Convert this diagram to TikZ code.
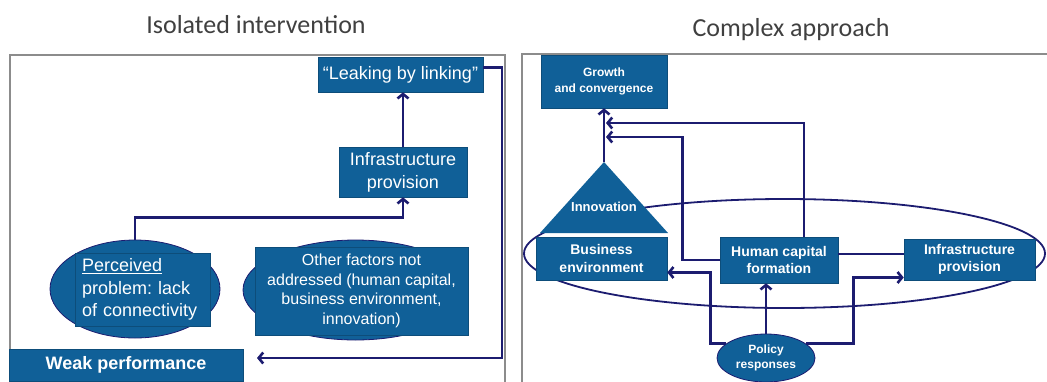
\documentclass[tikz,border=0pt]{standalone}
\usepackage{fontspec}
\setmainfont{Liberation Sans}
\newfontfamily\headfont{Carlito}
\frenchspacing
\usetikzlibrary{arrows,arrows.meta,shapes.geometric}

\definecolor{boxblue}{RGB}{16,96,152}
\definecolor{linknavy}{RGB}{28,28,112}
\definecolor{framegrey}{RGB}{140,140,140}

\tikzset{
  box/.style={fill=boxblue, draw=boxblue!80!black, line width=0.6pt, text=white, align=center, inner sep=0pt},
  blob/.style={ellipse, fill=boxblue, draw=linknavy, line width=0.8pt, inner sep=0pt},
  link/.style={draw=linknavy, line width=2.6pt, >={Straight Barb[length=4.5pt,width=11pt]}},
  panel/.style={draw=framegrey, line width=1.5pt},
  heading/.style={text=black!75, font=\headfont\fontsize{26}{30}\selectfont},
}

\begin{document}
\begin{tikzpicture}[x=1pt,y=-1pt]
	\useasboundingbox (0,0) rectangle (1047,381);
	\node[heading] (isotitle) at (256,25) {Isolated intervention};
	\node[heading] (cpxtitle) at (791,30) {Complex approach};
	\draw[panel] (10,392) |- (505,55) -- (505,392);
	\draw[panel] (522,392) |- (1060,54);

	% left: one-track intervention
	\node[box, minimum width=165pt, minimum height=35pt, font=\fontsize{18}{22}\selectfont] (leak) at (400.5,74.5) {“Leaking by linking”};
	\node[box, minimum width=128pt, minimum height=50pt, font=\fontsize{18}{23}\selectfont] (infra) at (403,172) {Infrastructure\\provision};
	\node[blob, minimum width=170pt, minimum height=98pt] (percv) at (135,289) {};
	\node[box, text width=121pt, inner xsep=7pt, minimum height=73pt, align=left, font=\fontsize{18}{22.5}\selectfont] (percvtxt) at (142.5,289.5) {\underline{Perceived}\\problem: lack\\of connectivity};
	\node[blob, minimum width=225pt, minimum height=100pt] (other) at (355.5,290) {};
	\node[box, minimum width=213pt, minimum height=88pt, font=\fontsize{16}{19.5}\selectfont] (othertxt) at (361.5,291) {Other factors not\\addressed (human capital,\\business environment,\\innovation)};
	\node[box, minimum width=234pt, minimum height=32pt, font=\bfseries\fontsize{18}{22}\selectfont] (weak) at (126,365) {Weak performance};
	\coordinate (rail) at (502,358);
	\coordinate (back) at (257,358);
	\draw[link,->] (percv.north) -- ++(0,-22) -| (infra.south);
	\draw[link,->] (infra.north) -- (infra.north |- leak.south);
	\draw[link,->] ([yshift=7pt]leak.east) -| (rail) -- (back);

	% right: joined-up approach
	\node[ellipse, draw=linknavy, line width=1.8pt, minimum width=521pt, minimum height=109pt] (cluster) at (784.5,253.5) {};
	\fill[boxblue] (604,162) -- (668,233) -- (540,233) -- cycle;
	\coordinate (apex) at (604,162);
	\node[text=white, font=\bfseries\fontsize{13}{16}\selectfont] (innov) at (604,207) {Innovation};
	\node[box, minimum width=126pt, minimum height=53pt, font=\bfseries\fontsize{12}{16}\selectfont] (grow) at (604,81.5) {Growth\\and convergence};
	\node[box, minimum width=131pt, minimum height=43pt, font=\bfseries\fontsize{14}{17.5}\selectfont] (biz) at (601.5,258.5) {Business\\environment};
	\node[box, minimum width=118pt, minimum height=46pt, font=\bfseries\fontsize{14}{17.5}\selectfont] (hc) at (779,260) {Human capital\\formation};
	\node[box, minimum width=131pt, minimum height=41pt, font=\bfseries\fontsize{14}{17.5}\selectfont] (infra2) at (969.5,259.5) {Infrastructure\\provision};
	\node[blob, minimum width=98pt, minimum height=48pt, text=white, align=center, font=\bfseries\fontsize{12}{15}\selectfont] (policy) at (766,358) {Policy\\responses};
	\coordinate (upperjoin) at (606,123);
	\coordinate (lowerjoin) at (606,137);
	\draw[link,->] (apex) -- (grow.south);
	\draw[link,->] ([xshift=25pt]hc.north) |- (upperjoin);
	\draw[link,->] (hc.west) -- ++(-37,0) |- (lowerjoin);
	\draw[link] ([yshift=6pt]hc.east) -- ([yshift=6pt]hc.east -| infra2.west);
	\draw[link,->] (policy.north) -- (policy.north |- hc.south);
	\draw[link,->] (policy.160) -- ++(-16,0) |- ([yshift=-14pt]biz.east);
	\draw[link,->] (policy.20) -- ++(48,0) |- ([yshift=-18pt]infra2.west);
\end{tikzpicture}
\end{document}
